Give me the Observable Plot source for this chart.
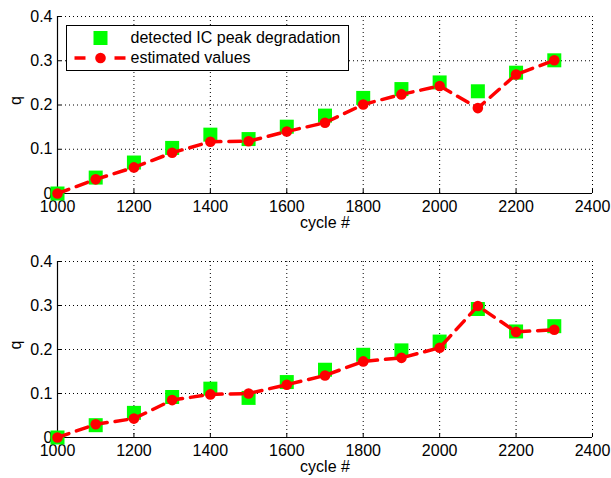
<!DOCTYPE html>
<html>
<head>
<meta charset="utf-8">
<script src="https://cdn.jsdelivr.net/npm/d3@7"></script>
<script src="https://cdn.jsdelivr.net/npm/@observablehq/plot@0.6"></script>
<style>
  html, body { margin: 0; padding: 0; background: #fff; }
  #wrap { position: relative; width: 611px; height: 478px; font-family: "Liberation Sans", Arial, sans-serif; }
  #wrap svg { display: block; }
  #wrap svg text, #wrap svg g { font-size: 16px !important; font-family: "Liberation Sans", Arial, sans-serif !important; }
  .legend { position: absolute; left: 66px; top: 25px; width: 281px; height: 44px; border: 1.5px solid #000; background: #fff; font-size: 16px; color: #000; }
  .legend .row { position: absolute; left: 0; height: 20px; width: 100%; }
  .legend .row span { position: absolute; left: 63.5px; top: 1px; white-space: nowrap; line-height: 18px; }
  .legend svg { position: absolute; left: 0; top: 0; }
</style>
</head>
<body>
<div id="wrap"></div>
<script>
// ---- data ----
const cycles = [1000, 1100, 1200, 1300, 1400, 1500, 1600, 1700, 1800, 1900, 2000, 2100, 2200, 2300];
const detectedTop = [0.0, 0.036, 0.070, 0.103, 0.133, 0.123, 0.151, 0.176, 0.216, 0.236, 0.251, 0.231, 0.273, 0.301];
const estimatedTop = [0.0, 0.032, 0.059, 0.092, 0.117, 0.118, 0.140, 0.160, 0.201, 0.224, 0.243, 0.193, 0.269, 0.301];
const detectedBottom = [0.0, 0.028, 0.056, 0.092, 0.111, 0.090, 0.126, 0.154, 0.188, 0.198, 0.218, 0.292, 0.241, 0.253];
const estimatedBottom = [0.0, 0.030, 0.043, 0.085, 0.098, 0.100, 0.120, 0.141, 0.173, 0.181, 0.204, 0.299, 0.240, 0.245];
const xTicks = [1000, 1200, 1400, 1600, 1800, 2000, 2200, 2400];
const yTicks = [0, 0.1, 0.2, 0.3, 0.4];
const xLabel = "cycle #";
const yLabel = "q";
const legendLabels = ["detected IC peak degradation", "estimated values"];

const GREEN = "#00ff00";
const RED = "#ff0000";

function panel(detected, estimated, mTop, mBottom, xLabelDy) {
  const W = 611, H = 239, mLeft = 57, mRight = 19;
  const innerH = H - mTop - mBottom, innerW = W - mLeft - mRight;
  const det = cycles.map((c, i) => ({x: c, y: detected[i]}));
  const est = cycles.map((c, i) => ({x: c, y: estimated[i]}));
  return Plot.plot({
    width: W, height: H,
    marginLeft: mLeft, marginRight: mRight, marginTop: mTop, marginBottom: mBottom,
    style: {fontFamily: '"Liberation Sans", Arial, sans-serif', fontSize: "16px", color: "#000", background: "#fff", overflow: "visible"},
    x: {domain: [xTicks[0], xTicks[xTicks.length - 1]]},
    y: {domain: [yTicks[0], yTicks[yTicks.length - 1]]},
    marks: [
      Plot.gridX(xTicks, {stroke: "#000", strokeOpacity: 1, strokeDasharray: "1,3", strokeWidth: 1}),
      Plot.gridY(yTicks, {stroke: "#000", strokeOpacity: 1, strokeDasharray: "1,3", strokeWidth: 1}),
      Plot.tickX(xTicks, {x: d => d, stroke: "#000", insetTop: innerH - 4}),
      Plot.tickY(yTicks, {y: d => d, stroke: "#000", insetRight: innerW - 4}),
      Plot.ruleY([yTicks[0]], {stroke: "#000", strokeWidth: 1.2}),
      Plot.ruleX([xTicks[0]], {stroke: "#000", strokeWidth: 1.2}),
      Plot.axisX(xTicks, {tickSize: 0, tickPadding: 7, tickFormat: d => String(d), label: null, fontSize: 16}),
      Plot.axisY(yTicks, {tickSize: 0, tickPadding: 5, tickFormat: d => String(d), label: null, fontSize: 16}),
      Plot.text([xLabel], {text: d => d, frameAnchor: "bottom", dy: xLabelDy, fontSize: 16, fill: "#000"}),
      Plot.text([yLabel], {text: d => d, frameAnchor: "left", dx: -42, rotate: -90, fontSize: 16, fill: "#000"}),
      Plot.dot(det, {x: "x", y: "y", symbol: "square", r: 7.9, fill: GREEN, stroke: null}),
      Plot.line(est, {x: "x", y: "y", stroke: RED, strokeWidth: 3.5, strokeDasharray: "12,8"}),
      Plot.dot(est, {x: "x", y: "y", r: 5.3, fill: RED, stroke: null})
    ]
  });
}

const wrap = document.getElementById("wrap");
wrap.append(panel(detectedTop, estimatedTop, 16, 46, 34));
wrap.append(panel(detectedBottom, estimatedBottom, 22, 41, 34));

// legend
const leg = document.createElement("div");
leg.className = "legend";
leg.innerHTML = `
  <div class="row" style="top:1.5px">
    <svg width="62" height="20"><rect x="26.5" y="3" width="14" height="14" fill="${GREEN}"/></svg>
    <span>${legendLabels[0]}</span>
  </div>
  <div class="row" style="top:21.5px">
    <svg width="62" height="20"><line x1="7.5" y1="10" x2="18.5" y2="10" stroke="${RED}" stroke-width="3.5"/><line x1="47.5" y1="10" x2="58.5" y2="10" stroke="${RED}" stroke-width="3.5"/><circle cx="33.5" cy="10" r="5.3" fill="${RED}"/></svg>
    <span>${legendLabels[1]}</span>
  </div>`;
wrap.append(leg);
</script>
</body>
</html>
